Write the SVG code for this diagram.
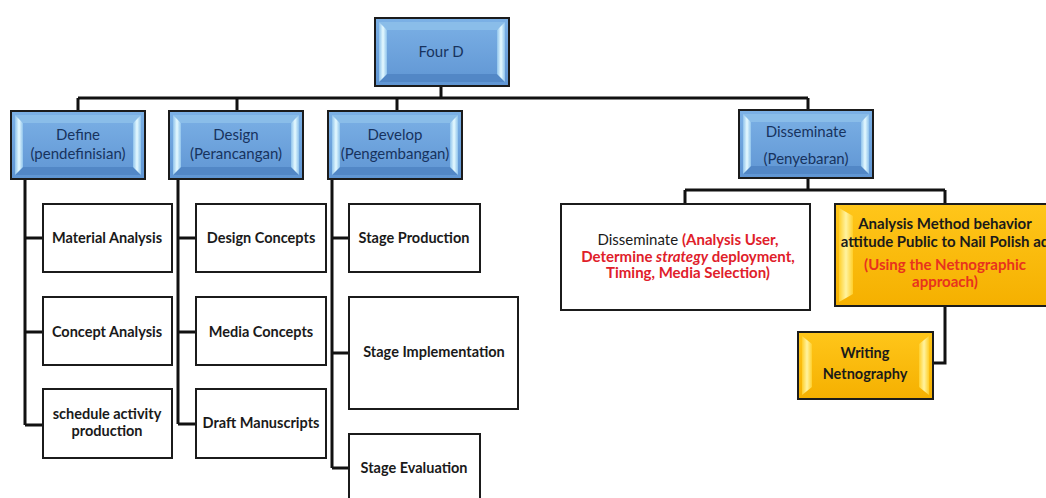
<svg xmlns="http://www.w3.org/2000/svg" xmlns:xlink="http://www.w3.org/1999/xlink" width="1046" height="498" viewBox="0 0 1046 498">
<defs>
<linearGradient id="blue" x1="0" y1="0" x2="0" y2="1"><stop offset="0" stop-color="#7cb1e6"/><stop offset="1" stop-color="#5f95d3"/></linearGradient>
<linearGradient id="bev" x1="0" y1="0" x2="1" y2="0"><stop offset="0" stop-color="#8fc3ec"/><stop offset="0.5" stop-color="#e6faff"/><stop offset="1" stop-color="#8fc3ec"/></linearGradient>
<linearGradient id="gold" x1="0" y1="0" x2="0" y2="1"><stop offset="0" stop-color="#ffc61a"/><stop offset="1" stop-color="#f5b000"/></linearGradient>
<linearGradient id="gbev" x1="0" y1="0" x2="1" y2="0"><stop offset="0" stop-color="#ffcf2a"/><stop offset="0.5" stop-color="#fff3a0"/><stop offset="1" stop-color="#ffcf2a"/></linearGradient>
<g id="bb">
<rect x="0" y="0" width="134" height="68" fill="url(#blue)" stroke="#1b1b1b" stroke-width="2"/>
<path d="M4,4 L130,4 L122,12 L12,12 Z" fill="#8abde9"/>
<path d="M4,64 L130,64 L122,56 L12,56 Z" fill="#5287c6"/>
<path d="M4,4 L12,12 L12,56 L4,64 Z" fill="url(#bev)"/>
<path d="M130,4 L122,12 L122,56 L130,64 Z" fill="url(#bev)"/>
</g>
<style>
.bt{font-family:Lato,"Open Sans","Liberation Sans",sans-serif;font-size:15px;fill:#17335e;text-anchor:middle}
.wt{font-family:Lato,"Open Sans","Liberation Sans",sans-serif;font-size:14.5px;font-weight:bold;fill:#1a1a1a;text-anchor:middle}
.lg{font-size:15px}
.red{fill:#e0202a;font-weight:bold}
.box{fill:#ffffff;stroke:#1b1b1b;stroke-width:2}
.con{fill:none;stroke:#111111;stroke-width:3}
</style>
</defs>
<rect width="1046" height="498" fill="#ffffff"/>
<g id="connectors" class="con">
<path d="M441,86 V98"/>
<path d="M78,98 H808"/>
<path d="M78,98 V111 M237,98 V111 M397,98 V111 M808,98 V110"/>
<path d="M25,178 V425 M25,238 H43 M25,332 H43 M25,425 H43"/>
<path d="M178,178 V424 M178,238 H196 M178,332 H196 M178,424 H196"/>
<path d="M332,178 V468 M332,238 H349 M332,353 H349 M332,468 H349"/>
<path d="M808,179 V190 M685,190 H945 M685,190 V204 M945,190 V204"/>
<path d="M945,306 V363 H933"/>
</g>
<g id="fourD"><use xlink:href="#bb" x="375" y="18"/><text class="bt" x="441" y="57">Four D</text></g>
<g id="define"><use xlink:href="#bb" x="11" y="111"/><text class="bt" x="78" y="140">Define</text><text class="bt" x="78" y="159">(pendefinisian)</text></g>
<g id="design"><use xlink:href="#bb" x="169" y="111"/><text class="bt" x="236" y="140">Design</text><text class="bt" x="236" y="159">(Perancangan)</text></g>
<g id="develop"><use xlink:href="#bb" x="328" y="111"/><text class="bt" x="395" y="140">Develop</text><text class="bt" x="395" y="159">(Pengembangan)</text></g>
<g id="disseminate"><use xlink:href="#bb" x="739" y="110"/><text class="bt" x="806" y="137">Disseminate</text><text class="bt" x="806" y="164">(Penyebaran)</text></g>
<g id="material"><rect class="box" x="43" y="204" width="129" height="68"/><text class="wt" x="107" y="243">Material Analysis</text></g>
<g id="concept"><rect class="box" x="43" y="297" width="129" height="68"/><text class="wt" x="107" y="337">Concept Analysis</text></g>
<g id="schedule"><rect class="box" x="43" y="389" width="129" height="69"/><text class="wt" x="107" y="419">schedule activity</text><text class="wt" x="107" y="436">production</text></g>
<g id="designConcepts"><rect class="box" x="196" y="204" width="130" height="68"/><text class="wt" x="261" y="243">Design Concepts</text></g>
<g id="mediaConcepts"><rect class="box" x="196" y="297" width="130" height="68"/><text class="wt" x="261" y="337">Media Concepts</text></g>
<g id="draft"><rect class="box" x="196" y="389" width="130" height="69"/><text class="wt" x="261" y="428">Draft Manuscripts</text></g>
<g id="stageProduction"><rect class="box" x="349" y="204" width="131" height="68"/><text class="wt" x="414" y="243">Stage Production</text></g>
<g id="stageImplementation"><rect class="box" x="349" y="297" width="169" height="112"/><text class="wt" x="434" y="357">Stage Implementation</text></g>
<g id="stageEvaluation"><rect class="box" x="349" y="434" width="131" height="70"/><text class="wt" x="414" y="473">Stage Evaluation</text></g>
<g id="dissDetail"><rect class="box" x="561" y="204" width="249" height="106"/>
<text class="wt lg" x="688" y="245"><tspan font-weight="normal">Disseminate </tspan><tspan class="red">(Analysis User,</tspan></text>
<text class="wt lg red" x="688" y="262">Determine <tspan font-style="italic">strategy</tspan> deployment,</text>
<text class="wt lg red" x="688" y="278">Timing, Media Selection)</text>
</g>
<g id="analysisMethod">
<rect x="835" y="204" width="222" height="102" fill="url(#gold)" stroke="#1b1b1b" stroke-width="2"/>
<path d="M839,208 L853,216 L853,294 L839,302 Z" fill="url(#gbev)"/>
<text class="wt lg" x="945" y="229">Analysis Method behavior</text>
<text class="wt lg" x="945" y="247">attitude Public to Nail Polish ad</text>
<text class="wt lg" x="945" y="270" style="fill:#e8321e">(Using the Netnographic</text>
<text class="wt lg" x="945" y="287" style="fill:#e8321e">approach)</text>
</g>
<g id="writing">
<rect x="798" y="332" width="135" height="67" fill="url(#gold)" stroke="#1b1b1b" stroke-width="2"/>
<path d="M802,336 L812,344 L812,387 L802,395 Z" fill="url(#gbev)"/>
<path d="M929,336 L919,344 L919,387 L929,395 Z" fill="url(#gbev)"/>
<text class="wt" x="865" y="358">Writing</text>
<text class="wt" x="865" y="379">Netnography</text>
</g>
</svg>
